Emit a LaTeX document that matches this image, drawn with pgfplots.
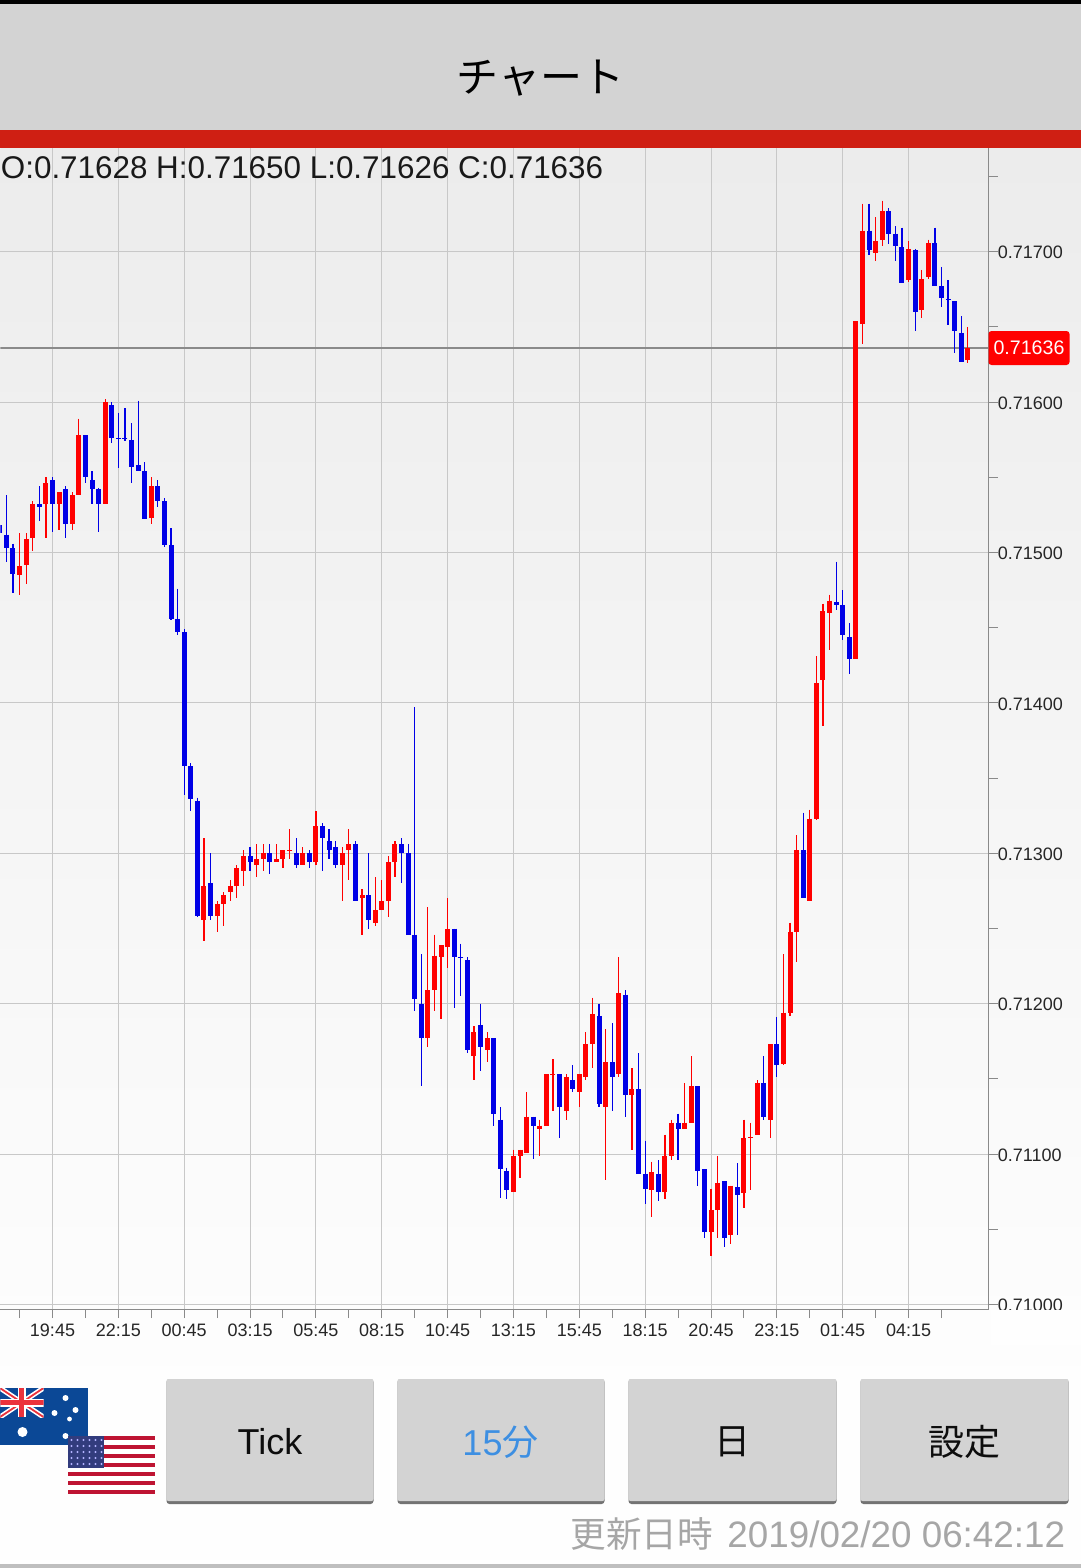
\documentclass[border=0pt]{standalone}
\usepackage{pgfplots}
\usepackage{pgfplotstable}
\pgfplotsset{compat=1.18}
\usepackage{fontspec}
\setmainfont{Liberation Sans}
\newfontfamily\cjk{Noto Sans CJK JP}
\definecolor{upc}{HTML}{FF0000}
\definecolor{dnc}{HTML}{0000E6}
\definecolor{gridc}{HTML}{C8C8C8}
\definecolor{axc}{HTML}{8A8A8A}
\definecolor{btn}{HTML}{D3D3D3}
\definecolor{barred}{HTML}{CF1F13}
\definecolor{bgtop}{HTML}{ECECEC}
\definecolor{bgbot}{HTML}{FEFEFE}
\definecolor{blueb}{HTML}{3D8FE2}
\definecolor{aublue}{HTML}{0B4896}
\definecolor{aured}{HTML}{EB323C}
\definecolor{usred}{HTML}{BE1432}
\definecolor{usblue}{HTML}{323C7D}
\pgfplotstableread{
x O H L C
-5 0.71485 0.71513 0.71472 0.71491
-4 0.71492 0.71513 0.71479 0.71509
-3 0.71510 0.71534 0.71501 0.71532
-1 0.71532 0.71550 0.71510 0.71546
1 0.71532 0.71540 0.71515 0.71540
3 0.71519 0.71540 0.71515 0.71538
4 0.71538 0.71589 0.71538 0.71578
8 0.71532 0.71602 0.71532 0.71600
15 0.71523 0.71550 0.71519 0.71544
23 0.71256 0.71310 0.71242 0.71278
25 0.71258 0.71268 0.71248 0.71266
26 0.71266 0.71274 0.71252 0.71272
27 0.71274 0.71282 0.71268 0.71278
28 0.71278 0.71292 0.71270 0.71290
29 0.71288 0.71302 0.71278 0.71298
31 0.71292 0.71306 0.71284 0.71296
32 0.71296 0.71306 0.71288 0.71300
34 0.71294 0.71306 0.71294 0.71296
35 0.71296 0.71302 0.71290 0.71302
36 0.71302 0.71316 0.71296 0.71302
38 0.71292 0.71304 0.71292 0.71300
40 0.71294 0.71328 0.71292 0.71318
44 0.71292 0.71304 0.71268 0.71300
45 0.71302 0.71316 0.71282 0.71306
47 0.71270 0.71276 0.71246 0.71272
49 0.71254 0.71284 0.71252 0.71262
50 0.71262 0.71282 0.71262 0.71268
51 0.71268 0.71298 0.71258 0.71294
52 0.71294 0.71308 0.71284 0.71306
57 0.71177 0.71264 0.71171 0.71209
58 0.71209 0.71246 0.71195 0.71232
59 0.71231 0.71239 0.71190 0.71239
60 0.71238 0.71270 0.71224 0.71250
64 0.71165 0.71185 0.71149 0.71181
66 0.71169 0.71181 0.71161 0.71177
70 0.71075 0.71103 0.71075 0.71099
71 0.71099 0.71103 0.71084 0.71103
72 0.71101 0.71141 0.71101 0.71125
74 0.71117 0.71123 0.71099 0.71119
75 0.71119 0.71153 0.71119 0.71153
76 0.71153 0.71163 0.71129 0.71153
78 0.71129 0.71153 0.71123 0.71151
80 0.71141 0.71153 0.71131 0.71153
81 0.71151 0.71181 0.71149 0.71173
82 0.71173 0.71204 0.71157 0.71193
84 0.71131 0.71183 0.71083 0.71161
86 0.71153 0.71231 0.71151 0.71207
88 0.71139 0.71157 0.71103 0.71143
91 0.71076 0.71095 0.71058 0.71088
93 0.71075 0.71113 0.71070 0.71099
94 0.71099 0.71123 0.71096 0.71121
96 0.71117 0.71147 0.71117 0.71121
97 0.71121 0.71165 0.71121 0.71145
100 0.71048 0.71077 0.71032 0.71063
101 0.71063 0.71099 0.71044 0.71081
103 0.71046 0.71079 0.71040 0.71079
105 0.71074 0.71123 0.71064 0.71111
106 0.71111 0.71121 0.71076 0.71111
107 0.71113 0.71149 0.71113 0.71147
109 0.71123 0.71173 0.71111 0.71173
111 0.71160 0.71233 0.71159 0.71194
112 0.71194 0.71254 0.71192 0.71248
113 0.71248 0.71312 0.71228 0.71302
115 0.71268 0.71329 0.71268 0.71323
116 0.71323 0.71431 0.71322 0.71413
117 0.71415 0.71466 0.71385 0.71461
118 0.71460 0.71472 0.71435 0.71468
122 0.71429 0.71654 0.71429 0.71654
123 0.71652 0.71732 0.71639 0.71714
125 0.71699 0.71723 0.71694 0.71707
126 0.71708 0.71734 0.71704 0.71727
130 0.71681 0.71707 0.71680 0.71702
132 0.71661 0.71688 0.71656 0.71682
133 0.71683 0.71708 0.71682 0.71706
139 0.71628 0.71650 0.71626 0.71636
}\redt
\pgfplotstableread{
x O H L C
-8 0.71518 0.71523 0.71495 0.71513
-7 0.71512 0.71538 0.71494 0.71503
-6 0.71503 0.71506 0.71473 0.71486
-2 0.71532 0.71544 0.71521 0.71530
0 0.71548 0.71550 0.71514 0.71532
2 0.71542 0.71544 0.71510 0.71519
5 0.71578 0.71578 0.71546 0.71550
6 0.71548 0.71554 0.71532 0.71542
7 0.71542 0.71543 0.71514 0.71532
9 0.71598 0.71600 0.71573 0.71576
10 0.71576 0.71593 0.71556 0.71576
11 0.71576 0.71596 0.71574 0.71576
12 0.71575 0.71586 0.71546 0.71557
13 0.71558 0.71601 0.71554 0.71554
14 0.71554 0.71560 0.71522 0.71522
16 0.71544 0.71548 0.71530 0.71534
17 0.71534 0.71536 0.71504 0.71505
18 0.71505 0.71516 0.71455 0.71456
19 0.71456 0.71476 0.71445 0.71447
20 0.71447 0.71449 0.71339 0.71358
21 0.71358 0.71360 0.71328 0.71336
22 0.71335 0.71337 0.71258 0.71258
24 0.71280 0.71300 0.71256 0.71258
30 0.71298 0.71304 0.71288 0.71294
33 0.71300 0.71306 0.71286 0.71294
37 0.71300 0.71310 0.71290 0.71292
39 0.71300 0.71302 0.71290 0.71294
41 0.71318 0.71320 0.71288 0.71310
42 0.71308 0.71316 0.71296 0.71302
43 0.71304 0.71308 0.71290 0.71292
46 0.71306 0.71308 0.71268 0.71268
48 0.71272 0.71300 0.71250 0.71256
53 0.71306 0.71310 0.71280 0.71300
54 0.71300 0.71306 0.71246 0.71246
55 0.71246 0.71397 0.71195 0.71203
56 0.71200 0.71233 0.71145 0.71177
61 0.71250 0.71250 0.71197 0.71231
62 0.71231 0.71240 0.71205 0.71231
63 0.71229 0.71231 0.71167 0.71169
65 0.71186 0.71200 0.71155 0.71171
67 0.71177 0.71177 0.71119 0.71127
68 0.71123 0.71131 0.71071 0.71090
69 0.71089 0.71091 0.71070 0.71076
73 0.71125 0.71125 0.71097 0.71119
77 0.71153 0.71153 0.71111 0.71131
79 0.71149 0.71159 0.71141 0.71143
83 0.71192 0.71200 0.71131 0.71133
85 0.71161 0.71187 0.71129 0.71151
87 0.71206 0.71209 0.71125 0.71139
89 0.71143 0.71167 0.71087 0.71087
90 0.71087 0.71109 0.71067 0.71077
92 0.71087 0.71096 0.71069 0.71075
95 0.71121 0.71127 0.71096 0.71117
98 0.71145 0.71145 0.71079 0.71089
99 0.71090 0.71090 0.71044 0.71048
102 0.71082 0.71082 0.71038 0.71044
104 0.71078 0.71094 0.71046 0.71073
108 0.71147 0.71165 0.71123 0.71125
110 0.71173 0.71191 0.71151 0.71159
114 0.71302 0.71327 0.71270 0.71270
119 0.71467 0.71494 0.71462 0.71465
120 0.71465 0.71475 0.71442 0.71445
121 0.71444 0.71453 0.71419 0.71429
124 0.71714 0.71732 0.71698 0.71701
127 0.71727 0.71729 0.71705 0.71712
128 0.71712 0.71717 0.71694 0.71704
129 0.71703 0.71716 0.71679 0.71679
131 0.71701 0.71702 0.71647 0.71660
134 0.71706 0.71716 0.71677 0.71677
135 0.71677 0.71690 0.71663 0.71669
136 0.71668 0.71681 0.71651 0.71668
137 0.71667 0.71667 0.71633 0.71647
138 0.71646 0.71657 0.71627 0.71627
}\bluet
\begin{document}
\begin{tikzpicture}
\begin{scope}[x=0.5pt,y=-0.5pt]
\useasboundingbox (0,0) rectangle (1080,1568);
\fill[white] (0,0) rectangle (1080,1568);
\shade[top color=bgtop,bottom color=bgbot] (0,148) rectangle (1080,1400);
\fill[bgbot] (0,1400) rectangle (1080,1568);
\fill[black!25] (0,1564) rectangle (1080,1568);
\fill[black] (0,0) rectangle (1080,4);
\fill[btn] (0,4) rectangle (1080,130);
\fill[barred] (0,130) rectangle (1080,148);
\node[font=\cjk\fontsize{21}{24}\selectfont] at (540,78) {チャート};
\end{scope}
\begin{axis}[
  at={(0pt,-654.5pt)}, anchor=south west,
  scale only axis, width=494pt, height=580.5pt,
  xmin=-7.897, xmax=142.14, ymin=0.70997, ymax=0.71769,
  axis x line*=bottom, axis y line*=right,
  axis line style={axc,line width=0.5pt,-},
  tick style={axc,line width=0.5pt},
  tick align=outside,
  major tick length=4.5pt, minor tick length=4.5pt,
  xtick={0,10,...,130},
  xticklabels={19:45,22:15,00:45,03:15,05:45,08:15,10:45,13:15,15:45,18:15,20:45,23:15,01:45,04:15},
  minor xtick={-5,5,15,25,35,45,55,65,75,85,95,105,115,125,135},
  ytick={0.71,0.711,0.712,0.713,0.714,0.715,0.716,0.717},
  yticklabels={0.71000,0.71100,0.71200,0.71300,0.71400,0.71500,0.71600,0.71700},
  minor ytick={0.7105,0.7115,0.7125,0.7135,0.7145,0.7155,0.7165,0.7175},
  scaled y ticks=false, scaled x ticks=false,
  xmajorgrids, ymajorgrids,
  major grid style={gridc,line width=0.5pt},
  tick label style={font=\fontsize{9}{10}\selectfont,text=black!85},
  yticklabel style={anchor=west,xshift=-1pt,yshift=-0.5pt,inner sep=1pt},
  xticklabel style={anchor=north,yshift=-2pt,inner sep=1pt},
]
\addplot[axc,line width=1pt,forget plot] coordinates {(-8,0.71636) (142.14,0.71636)};
\addplot[draw=none,mark=none,forget plot,
  error bars/.cd,y dir=minus,y explicit,error mark=none,
  error bar style={line width=0.6pt,draw=upc}]
  table[x=x,y=H,y error minus expr=\thisrow{H}-\thisrow{L}]{\redt};
\addplot[draw=none,mark=none,forget plot,
  error bars/.cd,y dir=minus,y explicit,error mark=none,
  error bar style={line width=0.6pt,draw=dnc}]
  table[x=x,y=H,y error minus expr=\thisrow{H}-\thisrow{L}]{\bluet};
\addplot[draw=none,mark=none,forget plot,
  error bars/.cd,y dir=minus,y explicit,error mark=none,
  error bar style={line width=2.5pt,draw=upc}]
  table[x=x,y=C,y error minus expr=\thisrow{C}-\thisrow{O}]{\redt};
\addplot[draw=none,mark=none,forget plot,
  error bars/.cd,y dir=minus,y explicit,error mark=none,
  error bar style={line width=2.5pt,draw=dnc}]
  table[x=x,y=O,y error minus expr=\thisrow{O}-\thisrow{C}]{\bluet};
\addplot[only marks,mark=-,mark size=1.25pt,mark options={line width=0.5pt,color=upc},forget plot]
  coordinates {(36,0.71302) (76,0.71153) (106,0.71111)};
\addplot[only marks,mark=-,mark size=1.25pt,mark options={line width=0.5pt,color=dnc},forget plot]
  coordinates {(10,0.71576) (11,0.71576) (62,0.71231) (136,0.71668)};
\end{axis}
\begin{scope}[x=0.5pt,y=-0.5pt]
% crop of the lowest price label
\fill[bgbot] (990,1310) rectangle (1080,1345);
% OHLC header
\node[anchor=base west,inner sep=0pt,font=\fontsize{15.7}{18}\selectfont,text=black!90] at (0,178) {O:0.71628 H:0.71650 L:0.71626 C:0.71636};
% current price tag
\fill[upc,rounded corners=1.5pt] (988,331) rectangle (1069,365);
\node[text=white,inner sep=0pt,font=\fontsize{9.8}{11}\selectfont] at (1028.5,348) {0.71636};
% buttons
\foreach \a/\b in {166/373,397/604,628/836,860/1068}{
  \fill[rounded corners=1.5pt,fill=black!55] (\a,1379) rectangle (\b,1504);
  \fill[btn,rounded corners=1pt] (\a,1379) rectangle (\b,1501);
}
\node[font=\fontsize{18}{20}\selectfont,text=black!95] at (269.5,1442) {Tick};
\node[font=\fontsize{18}{20}\selectfont,text=blueb] at (500,1442) {15{\cjk 分}};
\node[font=\cjk\fontsize{18}{20}\selectfont,text=black!95] at (732,1442) {日};
\node[font=\cjk\fontsize{18}{20}\selectfont,text=black!95] at (964,1442) {設定};
% update time
\node[anchor=base east,inner sep=0pt,font=\fontsize{18.4}{20}\selectfont,text=black!35] at (1065,1547) {2019/02/20 06:42:12};
\node[anchor=base east,inner sep=0pt,font=\cjk\fontsize{17.8}{20}\selectfont,text=black!35] at (713,1547) {更新日時};
% Australian flag
\fill[aublue] (0,1388) rectangle (87,1445);
\begin{scope}
\clip (0,1388) rectangle (43,1417);
\draw[white,line width=2.5pt] (-5,1385) -- (43,1417) (-5,1420) -- (43,1388);
\draw[aured,line width=0.9pt] (-5,1385) -- (43,1417) (-5,1420) -- (43,1388);
\draw[white,line width=4pt] (21,1388) -- (21,1417) (0,1402.5) -- (43,1402.5);
\draw[aured,line width=2.5pt] (21,1388) -- (21,1417) (0,1402.5) -- (43,1402.5);
\end{scope}
\foreach \sx/\sy/\sr in {65/1398/3,75/1410/3,54/1413/3,69/1419/2.4,65/1436/3,22/1432/5}
  \fill[white] (\sx,\sy) circle[radius=\sr*0.5pt];
% US flag
\fill[white] (67,1436) rectangle (154,1494);
\foreach \k in {0,2,4,6,8,10,12}
  \fill[usred] (67,{1436+\k*58/13}) rectangle (154,{1436+(\k+1)*58/13});
\fill[usblue] (67,1436) rectangle (103,1468);
\foreach \ix in {0,...,5}\foreach \iy in {0,...,4}
  \fill[white!70!blue] ({71+\ix*6},{1440+\iy*6}) circle[radius=0.55pt];
\end{scope}
\end{tikzpicture}
\end{document}
